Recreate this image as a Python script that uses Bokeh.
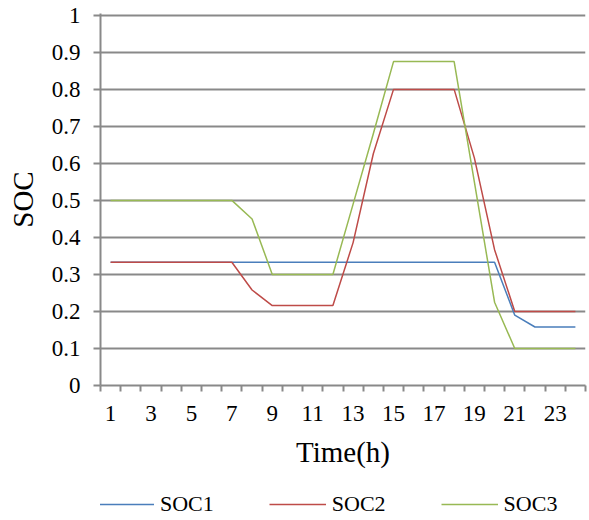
from bokeh.plotting import figure
from bokeh.layouts import column
from bokeh.models import FixedTicker, Legend, LegendItem, Range1d
from bokeh.embed import file_html
from bokeh.resources import INLINE

# ---- data ----
hours = [1, 2, 3, 4, 5, 6, 7, 8, 9, 10, 11, 12, 13, 14, 15, 16, 17, 18, 19, 20, 21, 22, 23, 24]
soc1 = [0.333, 0.333, 0.333, 0.333, 0.333, 0.333, 0.333, 0.333, 0.333, 0.333, 0.333, 0.333,
        0.333, 0.333, 0.333, 0.333, 0.333, 0.333, 0.333, 0.333, 0.19, 0.158, 0.158, 0.158]
soc2 = [0.333, 0.333, 0.333, 0.333, 0.333, 0.333, 0.333, 0.258, 0.216, 0.216, 0.216, 0.216,
        0.386, 0.626, 0.8, 0.8, 0.8, 0.8, 0.615, 0.367, 0.2, 0.2, 0.2, 0.2]
soc3 = [0.5, 0.5, 0.5, 0.5, 0.5, 0.5, 0.5, 0.45, 0.3, 0.3, 0.3, 0.3,
        0.49, 0.68, 0.875, 0.875, 0.875, 0.875, 0.55, 0.225, 0.1, 0.1, 0.1, 0.1]
series_names = ["SOC1", "SOC2", "SOC3"]
series_colors = ["#4a7ebb", "#be4b48", "#98b954"]

x_ticks = [1, 3, 5, 7, 9, 11, 13, 15, 17, 19, 21, 23]
x_labels = ["1", "3", "5", "7", "9", "11", "13", "15", "17", "19", "21", "23"]
x_bounds = [0.5, 1.5, 2.5, 3.5, 4.5, 5.5, 6.5, 7.5, 8.5, 9.5, 10.5, 11.5, 12.5,
            13.5, 14.5, 15.5, 16.5, 17.5, 18.5, 19.5, 20.5, 21.5, 22.5, 23.5, 24.5]
y_ticks = [0, 0.1, 0.2, 0.3, 0.4, 0.5, 0.6, 0.7, 0.8, 0.9, 1]
y_labels = ["0", "0.1", "0.2", "0.3", "0.4", "0.5", "0.6", "0.7", "0.8", "0.9", "1"]

FONT = "Liberation Serif"
GRAY = "#898989"

p = figure(width=589, height=485, output_backend="svg", toolbar_location=None,
           x_range=Range1d(0.5, 24.5), y_range=Range1d(0, 1.005),
           min_border_left=100, min_border_right=4, min_border_top=13, min_border_bottom=100)
p.outline_line_color = None
p.background_fill_color = "white"

# grid
p.xgrid.visible = False
p.ygrid.ticker = FixedTicker(ticks=y_ticks)
p.ygrid.grid_line_color = GRAY
p.ygrid.grid_line_width = 2

# x axis
xa = p.xaxis[0]
xa.ticker = FixedTicker(ticks=x_ticks, minor_ticks=x_bounds)
xa.major_label_overrides = dict(zip(x_ticks, x_labels))
xa.axis_line_color = GRAY
xa.axis_line_width = 2
xa.major_tick_in = 0
xa.major_tick_out = 0
xa.minor_tick_in = 0
xa.minor_tick_out = 6
xa.minor_tick_line_color = GRAY
xa.minor_tick_line_width = 2
xa.major_label_text_font = FONT
xa.major_label_text_font_size = "23px"
xa.major_label_text_color = "black"
xa.major_label_standoff = 14
xa.axis_label = "Time(h)"
xa.axis_label_text_font = FONT
xa.axis_label_text_font_size = "29px"
xa.axis_label_text_font_style = "normal"
xa.axis_label_text_color = "black"
xa.axis_label_standoff = 12

# y axis
ya = p.yaxis[0]
ya.ticker = FixedTicker(ticks=y_ticks)
ya.major_label_overrides = dict(zip(y_ticks, y_labels))
ya.axis_line_color = GRAY
ya.axis_line_width = 2
ya.major_tick_in = 0
ya.major_tick_out = 7
ya.major_tick_line_color = GRAY
ya.major_tick_line_width = 2
ya.minor_tick_line_color = None
ya.major_label_text_font = FONT
ya.major_label_text_font_size = "23px"
ya.major_label_text_color = "black"
ya.major_label_standoff = 13
ya.axis_label = "SOC"
ya.axis_label_text_font = FONT
ya.axis_label_text_font_size = "29px"
ya.axis_label_text_font_style = "normal"
ya.axis_label_text_color = "black"
ya.axis_label_standoff = 10

# lines on the main chart
for vals, col in zip([soc1, soc2, soc3], series_colors):
    p.line(hours, vals, line_color=col, line_width=1.5)

# legend strip below the chart (its own line renderers lie outside its view)
lg = figure(width=589, height=35, output_backend="svg", toolbar_location=None,
            x_axis_type=None, y_axis_type=None,
            x_range=Range1d(100, 101), y_range=Range1d(100, 101),
            min_border_left=0, min_border_right=0, min_border_top=0, min_border_bottom=0)
lg.outline_line_color = None
items = []
for name, vals, col in zip(series_names, [soc1, soc2, soc3], series_colors):
    r = lg.line(hours, vals, line_color=col, line_width=1.5)
    items.append(LegendItem(label=name, renderers=[r]))

legend = Legend(items=items, orientation="horizontal", location=(-3, 3),
                glyph_width=57, glyph_height=20, label_standoff=6, spacing=55,
                padding=0, margin=0, border_line_color=None, background_fill_alpha=0,
                label_text_font=FONT, label_text_font_size="22px", label_text_color="black")
lg.add_layout(legend, "center")

open("out.html", "w").write(file_html(column(p, lg, spacing=0), INLINE))
